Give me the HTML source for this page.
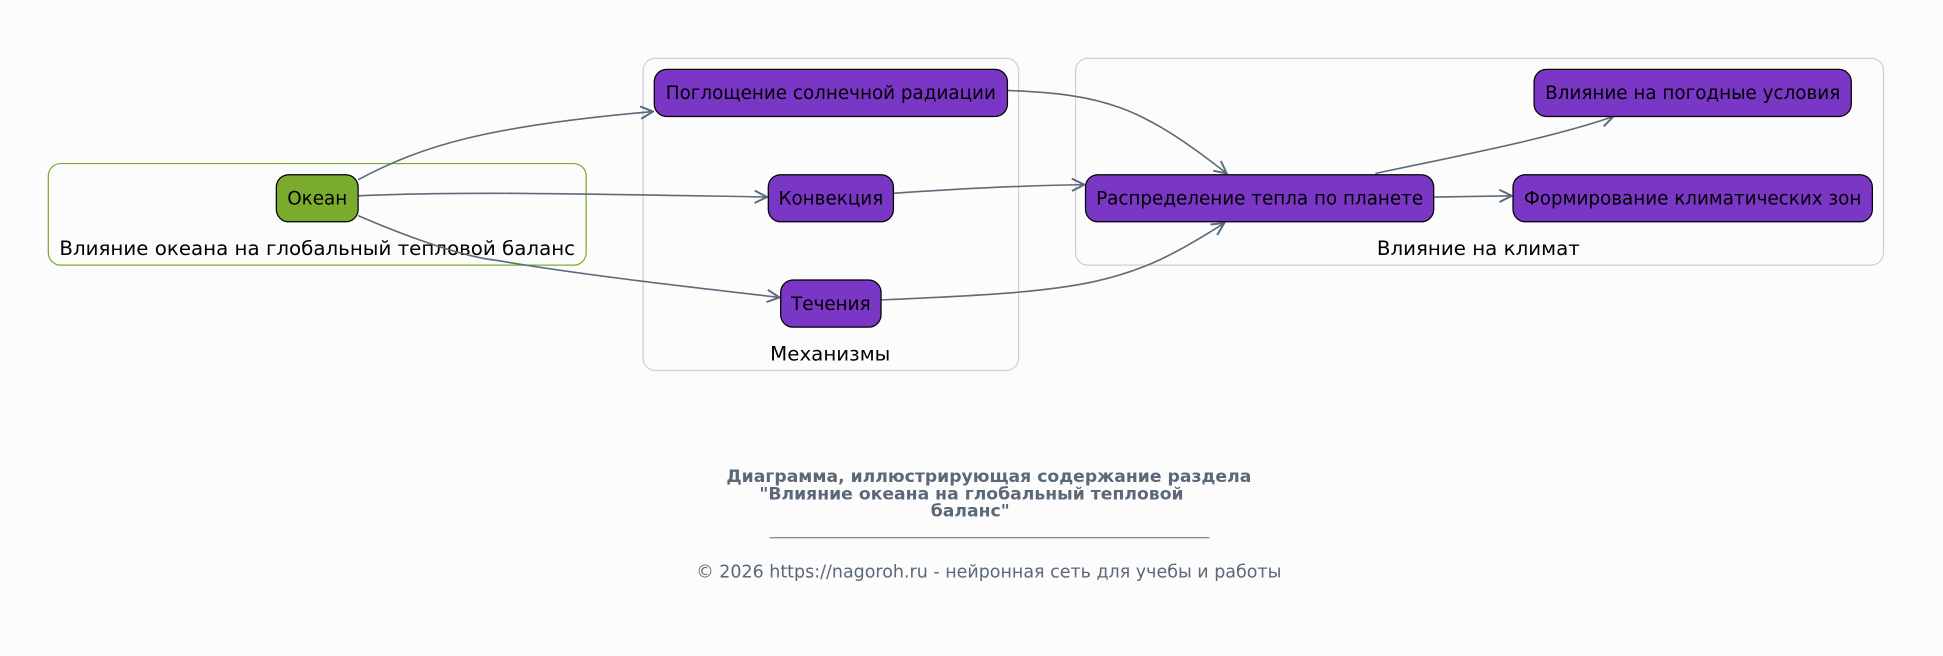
<!DOCTYPE html>
<html><head><meta charset="utf-8"><style>
html,body{margin:0;padding:0;background:#fdfcfc;}
svg{display:block;}
text{font-family:"DejaVu Sans","Liberation Sans",sans-serif;}
</style></head><body>
<svg width="1943" height="656" viewBox="0 0 1568 529.4" preserveAspectRatio="none" xmlns="http://www.w3.org/2000/svg">
<defs>
<marker id="a" viewBox="0 0 12 12" refX="11" refY="6" markerWidth="12" markerHeight="12" markerUnits="userSpaceOnUse" orient="auto">
<path d="M1,1 L11,6 L1,11" fill="none" stroke="#5b6b7a" stroke-width="1.6"/>
</marker>
</defs>
<rect width="1568" height="530" fill="#fdfcfc"/>
<rect x="39" y="132" width="434" height="82" rx="10" fill="none" stroke="#7aab2c" stroke-width="1"/>
<text x="256" y="206" font-size="16" text-anchor="middle" fill="#000">Влияние океана на глобальный тепловой баланс</text>
<rect x="519" y="47" width="303" height="252" rx="10" fill="none" stroke="#d0d0d0" stroke-width="1"/>
<text x="670" y="291" font-size="16" text-anchor="middle" fill="#000">Механизмы</text>
<rect x="868" y="47" width="652" height="167" rx="10" fill="none" stroke="#d0d0d0" stroke-width="1"/>
<text x="1193" y="206" font-size="16" text-anchor="middle" fill="#000">Влияние на климат</text>

<g fill="none" stroke="#5b6b7a" stroke-width="1.3" marker-end="url(#a)">
<path d="M289,145 C340,118 390,102 527,90"/>
<path d="M289,158 C380,154 500,157 619,159"/>
<path d="M289,174 C340,196 380,208 400,210 C470,222 560,232 629,240"/>
<path d="M813,73 C890,76 920,85 990,140"/>
<path d="M721,156 C780,152 820,150 875,149"/>
<path d="M711,242 C880,235 910,230 988,180"/>
<path d="M1110,140 C1180,125 1250,112 1302,94"/>
<path d="M1157,159 L1220,158"/>
</g>

<g stroke="#000" stroke-width="1">
<rect x="223" y="141" width="66" height="38" rx="10" fill="#7aab2c"/>
<rect x="528" y="56" width="285" height="38" rx="10" fill="#7a36c4"/>
<rect x="620" y="141" width="101" height="38" rx="10" fill="#7a36c4"/>
<rect x="630" y="226" width="81" height="38" rx="10" fill="#7a36c4"/>
<rect x="876" y="141" width="281" height="38" rx="10" fill="#7a36c4"/>
<rect x="1238" y="56" width="256" height="38" rx="10" fill="#7a36c4"/>
<rect x="1221" y="141" width="290" height="38" rx="10" fill="#7a36c4"/>
</g>
<g font-size="14.8" fill="#000" text-anchor="middle">
<text x="256" y="165">Океан</text>
<text x="670.5" y="80">Поглощение солнечной радиации</text>
<text x="670.5" y="165">Конвекция</text>
<text x="670.5" y="250">Течения</text>
<text x="1016.5" y="165">Распределение тепла по планете</text>
<text x="1366" y="80">Влияние на погодные условия</text>
<text x="1366" y="165">Формирование климатических зон</text>
</g>
<g font-size="13.9" font-weight="bold" fill="#5a6878" text-anchor="middle">
<text x="798" y="389">Диаграмма, иллюстрирующая содержание раздела</text>
<text x="784" y="403">"Влияние океана на глобальный тепловой</text>
<text x="783" y="417">баланс"</text>
</g>
<line x1="621" y1="434" x2="976" y2="434" stroke="#5a6878" stroke-width="0.8"/>
<text x="798" y="466" font-size="14.1" fill="#5a6878" text-anchor="middle">© 2026 https://nagoroh.ru - нейронная сеть для учебы и работы</text>
</svg>
</body></html>
